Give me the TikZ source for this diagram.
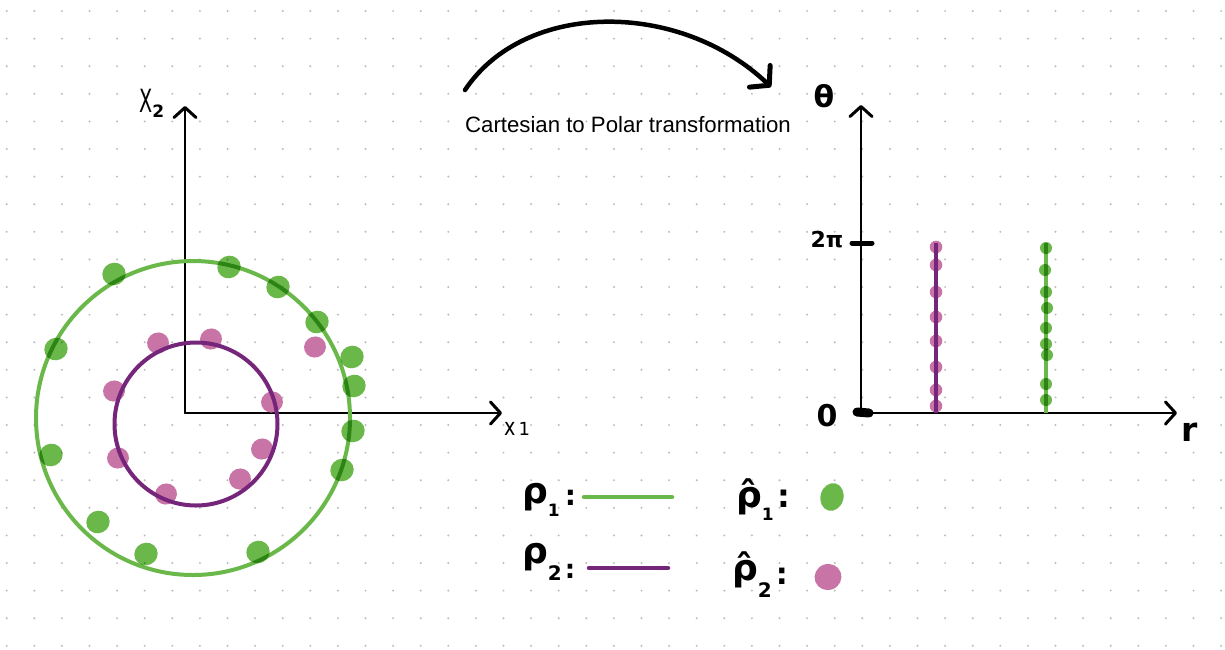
\documentclass[tikz,border=0pt]{standalone}
\usepackage{fontspec}
\usepackage{graphicx}
\setmainfont{Liberation Sans}
\newfontfamily\hand{DejaVu Sans}
\usetikzlibrary{arrows.meta}
\definecolor{pgreen}{RGB}{107,184,74}
\definecolor{ppurple}{RGB}{117,38,122}
\definecolor{ppink}{RGB}{201,116,166}
\definecolor{gdot}{RGB}{188,188,188}
\newcommand\myfs[1]{\fontsize{#1}{#1}\selectfont}
\tikzset{
  chevtip/.tip={Straight Barb[length=10pt,width=22pt,line width=3pt,round]},
  bigtip/.tip={Straight Barb[length=13pt,width=30pt,line width=5pt,round]},
  axisline/.style={line width=2pt, line cap=round},
  hlabel/.style={inner sep=0pt, font=\hand\bfseries},
  tlabel/.style={inner sep=0pt, font=\hand},
  gblob/.style={fill=pgreen, blend mode=multiply},
  pblob/.style={fill=ppink},
  gcurve/.style={draw=pgreen, line width=4pt},
  pcurve/.style={draw=ppurple, line width=4pt},
}
\begin{document}
\begin{tikzpicture}[x=1pt,y=-1pt]
\useasboundingbox (0,0) rectangle (1225,649);
\fill[white] (0,0) rectangle (1225,649);
% dotted paper
\foreach \i in {0,...,44}{
  \foreach \j in {0,...,23}{
    \fill[gdot] ({6.7+27.6*\i},{11+27.6*\j}) circle (1.1pt);
  }
}
% ---------- left plot ----------
\coordinate (Lo) at (185,413);
\coordinate (Lt) at (185,106);
\coordinate (Lr) at (502,413);
\draw[axisline, -chevtip] (Lo) -- (Lt);
\draw[axisline, -chevtip] (Lo) -- (Lr);
\node[tlabel, anchor=base west] (lx2) at (139,112)
  {\myfs{32}\scalebox{0.6}[1]{X}\raisebox{-5pt}{\myfs{17}\bfseries 2}};
\node[tlabel, anchor=base west] (lx1) at (504,435)
  {\myfs{24}\scalebox{0.8}[1]{x}\hspace{3pt}\myfs{18}1};
% pink blobs under purple circle
\foreach \x/\y in {158/343, 211/339, 315/347, 114/391, 272/402, 118/458, 262/449, 240/479, 166/494}
  \fill[pblob] (\x,\y) ellipse [x radius=11pt, y radius=10.5pt, rotate=20];
\draw[pcurve] (196,424) circle (81.5pt);
\draw[gcurve] (193,418) circle (157pt);
\foreach \x/\y in {114/274, 229/267, 278/287, 317/322, 56/349, 352/357, 354/386, 353/431, 342/470, 51/455, 98/522, 146/554, 258/552}
  \fill[gblob] (\x,\y) ellipse [x radius=11.8pt, y radius=11.2pt, rotate=25];
% ---------- transformation arrow ----------
\coordinate (As) at (465,90);
\coordinate (Ae) at (771,87);
\draw[line width=4.5pt, line cap=round, -bigtip] (As) .. controls (525,0) and (680,0) .. (Ae);
\node[inner sep=0pt, font=\myfs{22.2}] (cap) at (628,125) {Cartesian to Polar transformation};
% ---------- right plot ----------
\coordinate (Ro) at (861,413);
\coordinate (Rt) at (861,105);
\coordinate (Rr) at (1177,413);
\draw[line width=2.5pt, line cap=round, -chevtip] (Ro) -- (Rt);
\draw[line width=2.5pt, line cap=round, -chevtip] (Ro) -- (Rr);
\coordinate (tk1) at (852,243);
\coordinate (tk2) at (872,243);
\draw[line width=5pt, line cap=round] (tk1) -- (tk2);
\coordinate (ob1) at (857,412);
\coordinate (ob2) at (869,413);
\draw[line width=9pt, line cap=round] (ob1) -- (ob2);
\node[hlabel, font=\hand\bfseries\myfs{30}] (theta) at (824,96) {θ};
\node[hlabel, font=\hand\bfseries\myfs{22}] (twopi) at (827,240) {2π};
\node[hlabel, font=\hand\bfseries\myfs{30}] (zero) at (827,416) {0};
\node[hlabel, font=\hand\bfseries\myfs{33}] (rlab) at (1190,432) {r};
% purple line with pink dots
\foreach \y in {247, 265, 292, 317, 341, 367, 390, 406}
  \fill[pblob] (936,\y) circle (6.3pt);
\coordinate (pb) at (936,413);
\coordinate (pt) at (936,243);
\draw[pcurve, line width=4pt] (pb) -- (pt);
% green line with green dots
\coordinate (gb) at (1046,413);
\coordinate (gt) at (1046,243);
\draw[gcurve, line width=3.5pt] (gb) -- (gt);
\foreach \x/\y in {1046/248, 1045/270, 1046/292, 1047/308, 1046/328, 1046/344, 1047/355, 1046/384, 1046/400}
  \fill[gblob] (\x,\y) circle (6pt);
% ---------- legend ----------
\node[hlabel, anchor=base west] (rho1) at (522,503)
  {\myfs{36}ρ\raisebox{-13pt}{\myfs{17}1}\hspace{5pt}\raisebox{-2pt}{\myfs{28}:}};
\coordinate (l1a) at (584,497);
\coordinate (l1b) at (672,497);
\draw[gcurve, line width=4.5pt, line cap=round] (l1a) -- (l1b);
\node[hlabel, anchor=base west] (rho2) at (522,563)
  {\myfs{36}ρ\raisebox{-17pt}{\myfs{20}2}\hspace{3pt}\raisebox{-15pt}{\myfs{26}:}};
\coordinate (l2a) at (589,568);
\coordinate (l2b) at (668,568);
\draw[pcurve, line width=4.5pt, line cap=round] (l2a) -- (l2b);
\node[hlabel, anchor=base west] (rhoh1) at (736,507)
  {\myfs{36}ρ̂\raisebox{-13pt}{\myfs{17}1}\hspace{4pt}\raisebox{0pt}{\myfs{32}:}};
\fill[pgreen] (832,497) ellipse [x radius=11.5pt, y radius=14pt, rotate=-15];
\node[hlabel, anchor=base west] (rhoh2) at (732,580)
  {\myfs{36}ρ̂\raisebox{-17pt}{\myfs{20}2}\hspace{4pt}\raisebox{-4pt}{\myfs{30}:}};
\fill[ppink] (828,577) ellipse [x radius=13.5pt, y radius=13pt, rotate=20];
\end{tikzpicture}
\end{document}
